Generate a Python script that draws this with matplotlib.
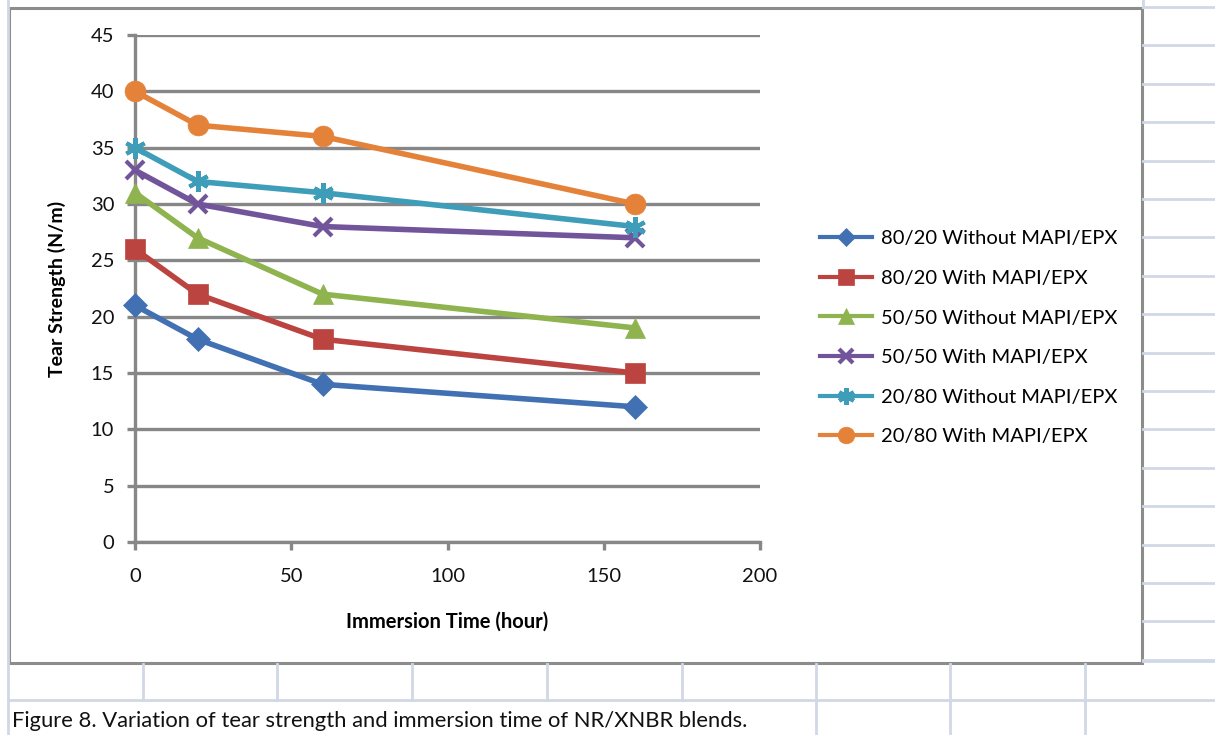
import matplotlib
matplotlib.use("Agg")
import matplotlib.pyplot as plt
from matplotlib.lines import Line2D

plt.rcParams['font.family'] = ['Lato', 'DejaVu Sans']

hours = [0, 20, 60, 160]
s_8020_without = [21, 18, 14, 12]
s_8020_with = [26, 22, 18, 15]
s_5050_without = [31, 27, 22, 19]
s_5050_with = [33, 30, 28, 27]
s_2080_without = [35, 32, 31, 28]
s_2080_with = [40, 37, 36, 30]

labels = ["80/20 Without MAPI/EPX", "80/20 With MAPI/EPX", "50/50 Without MAPI/EPX",
          "50/50 With MAPI/EPX", "20/80 Without MAPI/EPX", "20/80 With MAPI/EPX"]
series = [s_8020_without, s_8020_with, s_5050_without, s_5050_with, s_2080_without, s_2080_with]
colors = ["#4170B3", "#BB4441", "#8FB34F", "#71549A", "#3E9DB8", "#E4823A"]
markers = ["D", "s", "^", "x", (6, 2, 0), "o"]
msizes = [12, 15, 15, 13, 15, 15]

W, H = 1215, 735
fig = plt.figure(figsize=(W / 100, H / 100), dpi=100)

# spreadsheet grid background
bg = fig.add_axes([0, 0, 1, 1], zorder=-5)
bg.set_xlim(0, W)
bg.set_ylim(H, 0)
bg.axis('off')
gc = "#D0D8E6"
for y in [7 + 38.4 * i for i in range(18)]:
    if y < 664:
        bg.plot([1143, W], [y, y], color=gc, lw=2)
bg.plot([1143, W], [661, 661], color=gc, lw=2)
bg.plot([8, W], [700, 700], color=gc, lw=2)
bg.plot([8, 8], [0, H], color=gc, lw=2)
for x in [143, 277, 412, 547, 682, 816, 950, 1085]:
    bg.plot([x, x], [664, 700], color=gc, lw=2)
for x in [816, 950, 1085]:
    bg.plot([x, x], [700, H], color=gc, lw=2)
bg.plot([1143, 1143], [0, 7], color=gc, lw=2)
# chart frame
bg.add_patch(plt.Rectangle((9, 8), 1133, 655, fill=True, facecolor='white',
                           edgecolor='#8C8C8C', lw=2.2))
bg.text(12, 721, "Figure 8. Variation of tear strength and immersion time of NR/XNBR blends.",
        fontsize=15.8, va='center', ha='left', color='#111111')

# main axes: x 135..760 px, y 35..542 px
ax = fig.add_axes([135 / W, 1 - 542 / H, (760 - 135) / W, (542 - 35) / H])
ax.set_facecolor('none')
ax.set_xlim(0, 200)
ax.set_ylim(0, 45)
ax.set_xticks([0, 50, 100, 150, 200])
ax.set_yticks(range(0, 46, 5))
ax.yaxis.grid(True, color='#878787', lw=2.4)
ax.set_axisbelow(True)
for sp in ['top', 'right']:
    ax.spines[sp].set_visible(False)
for sp in ['left', 'bottom']:
    ax.spines[sp].set_color('#878787')
    ax.spines[sp].set_linewidth(2.4)
ax.tick_params(axis='both', colors='#878787', width=2.4, length=6, labelsize=14.5,
               labelcolor='#111111')
ax.tick_params(axis='x', pad=13)
ax.tick_params(axis='y', pad=9)

handles = []
for ys, lab, c, m, ms in zip(series, labels, colors, markers, msizes):
    mew = 3 if m in ("x", (6, 2, 0)) else 0.5
    ax.plot(hours, ys, color=c, lw=4, marker=m, markersize=ms, markerfacecolor=c,
            markeredgecolor=c, markeredgewidth=mew, clip_on=False, zorder=3)
    handles.append(Line2D([], [], color=c, lw=3, marker=m, markersize=ms * 0.8,
                          markerfacecolor=c, markeredgecolor=c, markeredgewidth=mew))

ax.set_xlabel("Immersion Time (hour)", fontsize=14.5, fontweight='bold', labelpad=19)
ax.set_ylabel("Tear Strength (N/m)", fontsize=14, fontweight='bold', labelpad=18)

fig.legend(handles, labels, loc='upper left', bbox_to_anchor=(802 / W, 1 - 212 / H),
           frameon=False, fontsize=14.5, handlelength=2.6, labelspacing=1.12,
           handletextpad=0.4)

fig.savefig("out.png", dpi=100)
